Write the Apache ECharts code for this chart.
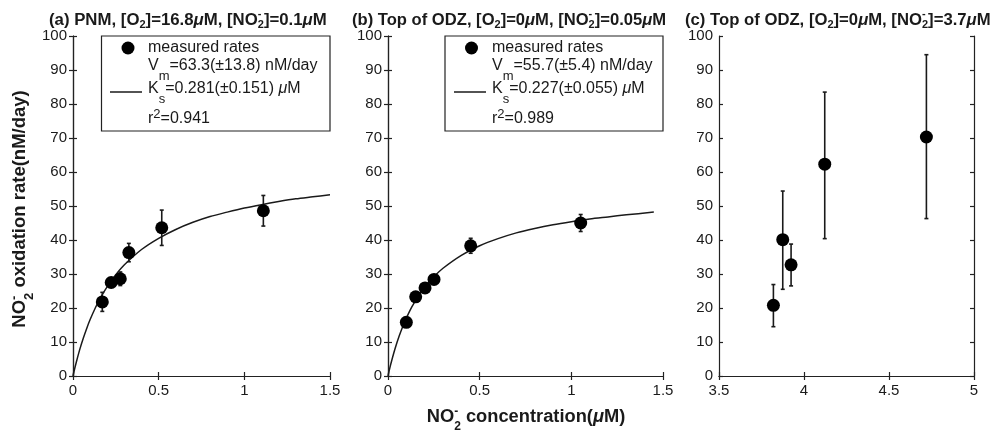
<!DOCTYPE html>
<html>
<head>
<meta charset="utf-8">
<script src="https://cdn.jsdelivr.net/npm/echarts@6/dist/echarts.min.js"></script>
<style>
html, body { margin: 0; padding: 0; background: #fff; }
#chart { width: 1005px; height: 433px; }
</style>
</head>
<body>
<div id="chart"></div>
<script>
// (a) PNM
const xA = [0.171, 0.223, 0.276, 0.326, 0.518, 1.111];
const yA = [21.8, 27.5, 28.6, 36.3, 43.6, 48.6];
const loA = [19.0, 26.3, 26.6, 33.6, 38.4, 44.1];
const hiA = [24.6, 28.7, 30.6, 39.0, 48.8, 53.1];
const fitXA = [0, 0.01, 0.02, 0.04, 0.06, 0.08, 0.1, 0.13, 0.16, 0.2, 0.25, 0.3, 0.4, 0.5, 0.6, 0.7, 0.8, 0.9, 1.0, 1.1, 1.2, 1.3, 1.4, 1.5];
const fitYA = [0, 2.2, 4.2, 7.9, 11.1, 14.0, 16.6, 20.0, 23.0, 26.3, 29.8, 32.7, 37.2, 40.5, 43.1, 45.2, 46.9, 48.2, 49.4, 50.4, 51.3, 52.1, 52.7, 53.3];

// (b) top of ODZ, low nitrite
const xB = [0.100, 0.151, 0.202, 0.251, 0.451, 1.051];
const yB = [15.8, 23.3, 25.9, 28.4, 38.3, 45.0];
const loB = [14.6, 22.3, 25.1, 27.4, 36.1, 42.5];
const hiB = [17.0, 24.3, 26.7, 29.4, 40.5, 47.5];
const fitXB = [0, 0.01, 0.02, 0.04, 0.06, 0.08, 0.1, 0.13, 0.16, 0.2, 0.25, 0.3, 0.4, 0.5, 0.6, 0.7, 0.8, 0.9, 1.0, 1.1, 1.2, 1.3, 1.45];
const fitYB = [0, 2.4, 4.5, 8.3, 11.6, 14.5, 17.0, 20.3, 23.0, 26.1, 29.2, 31.7, 35.5, 38.3, 40.4, 42.1, 43.4, 44.5, 45.4, 46.2, 46.8, 47.4, 48.2];

// (c) top of ODZ, high nitrite
const xC = [3.82, 3.875, 3.924, 4.122, 4.72];
const yC = [20.8, 40.1, 32.7, 62.3, 70.3];
const loC = [14.5, 25.5, 26.5, 40.4, 46.3];
const hiC = [26.9, 54.4, 38.8, 83.5, 94.5];

const xRanges = [[0, 1.5], [0, 1.5], [3.5, 5]];
const yRange = [0, 100];

const FF = '"Liberation Sans", Arial, Helvetica, sans-serif';
const INK = '#1a1a1a';

const chart = echarts.init(document.getElementById('chart'));
const measureCtx = document.createElement('canvas').getContext('2d');

// text made of pieces: t = normal, mu = italic, sub, sup, supz = sup stacked over the next sub
function richText(x, yc, parts, size, weight, subOff, supOff, opts) {
    opts = opts || {};
    const z = opts.z || 11;
    const small = Math.round(size * (opts.smallScale || 0.68));
    const children = [];
    let cx = 0;
    let held = 0;
    parts.forEach(([kind, str]) => {
        const isSmall = kind === 'sub' || kind === 'sup' || kind === 'supz';
        const fs = isSmall ? small : size;
        const fstyle = kind === 'mu' ? 'italic' : 'normal';
        measureCtx.font = fstyle + ' ' + weight + ' ' + fs + 'px ' + FF;
        const w = measureCtx.measureText(str).width;
        let dy = 0;
        if (kind === 'sub') dy = subOff;
        if (kind === 'sup' || kind === 'supz') dy = -supOff;
        children.push({
            type: 'text', x: cx, y: dy, z: z,
            style: {
                text: str, fontSize: fs, fontWeight: weight, fontStyle: fstyle,
                fontFamily: FF, fill: INK, align: 'left', verticalAlign: 'middle'
            }
        });
        if (kind === 'supz') {
            held = w;
        } else {
            cx += Math.max(w, held);
            held = 0;
        }
    });
    if (opts.center) {
        children.forEach(c => { c.x -= cx / 2; });
    }
    return {
        type: 'group', x: x, y: yc, rotation: opts.rotation || 0, z: z,
        children: children
    };
}

function errRender(params, api) {
    const x = api.value(0);
    const lo = api.coord([x, api.value(1)]);
    const hi = api.coord([x, api.value(2)]);
    const w = 2;
    const st = { stroke: INK, lineWidth: 1.6 };
    return {
        type: 'group',
        children: [
            { type: 'line', shape: { x1: lo[0], y1: lo[1], x2: hi[0], y2: hi[1] }, style: st },
            { type: 'line', shape: { x1: lo[0] - w, y1: lo[1], x2: lo[0] + w, y2: lo[1] }, style: st },
            { type: 'line', shape: { x1: hi[0] - w, y1: hi[1], x2: hi[0] + w, y2: hi[1] }, style: st }
        ]
    };
}

const grids = [
    { left: 73, top: 36, width: 257, height: 340 },
    { left: 388, top: 36, width: 275, height: 340 },
    { left: 719, top: 36, width: 255, height: 340 }
];

const xAxes = [];
const yAxes = [];
const axisLine = { show: true, lineStyle: { color: '#222', width: 1.2 } };
const tick = { show: true, inside: true, length: 4, lineStyle: { color: '#222', width: 1.2 } };
const lbl = { fontFamily: FF, fontSize: 15, color: INK };

for (let i = 0; i < 3; i++) {
    xAxes.push({
        type: 'value', gridIndex: i, position: 'bottom',
        min: xRanges[i][0], max: xRanges[i][1], interval: 0.5,
        axisLine: axisLine, axisTick: tick, splitLine: { show: false },
        axisLabel: Object.assign({ margin: 7 }, lbl)
    });
    xAxes.push({
        type: 'value', gridIndex: i, position: 'top',
        min: xRanges[i][0], max: xRanges[i][1], interval: 0.5,
        axisLine: axisLine, axisTick: tick, splitLine: { show: false },
        axisLabel: { show: false }
    });
    yAxes.push({
        type: 'value', gridIndex: i, position: 'left',
        min: yRange[0], max: yRange[1], interval: 10,
        axisLine: axisLine, axisTick: tick, splitLine: { show: false },
        axisLabel: Object.assign({ margin: 6 }, lbl)
    });
    yAxes.push({
        type: 'value', gridIndex: i, position: 'right',
        min: yRange[0], max: yRange[1], interval: 10,
        axisLine: axisLine, axisTick: tick, splitLine: { show: false },
        axisLabel: { show: false }
    });
}

function zip(a, b) {
    return a.map((v, i) => [v, b[i]]);
}

function zip3(a, b, c) {
    return a.map((v, i) => [v, b[i], c[i]]);
}

const panels = [
    { x: xA, y: yA, lo: loA, hi: hiA, fx: fitXA, fy: fitYA },
    { x: xB, y: yB, lo: loB, hi: hiB, fx: fitXB, fy: fitYB },
    { x: xC, y: yC, lo: loC, hi: hiC }
];

const series = [];
panels.forEach((p, i) => {
    if (p.fx) {
        series.push({
            type: 'line', xAxisIndex: 2 * i, yAxisIndex: 2 * i,
            data: zip(p.fx, p.fy), showSymbol: false, smooth: 0.3,
            lineStyle: { color: INK, width: 1.5 }, silent: true, z: 2
        });
    }
    series.push({
        type: 'custom', xAxisIndex: 2 * i, yAxisIndex: 2 * i,
        data: zip3(p.x, p.lo, p.hi), renderItem: errRender, silent: true, z: 3
    });
    series.push({
        type: 'scatter', xAxisIndex: 2 * i, yAxisIndex: 2 * i,
        data: zip(p.x, p.y), symbol: 'circle', symbolSize: 13,
        itemStyle: { color: '#000', opacity: 1 }, silent: true, z: 4
    });
});

function legendBox(x0, x1, circleX, textX, lineX0, lineX1, vm, ks, r2) {
    const fs = 16;
    const o = { smallScale: 0.8 };
    return [
        { type: 'rect', shape: { x: x0, y: 36, width: x1 - x0, height: 95 }, style: { fill: '#fff', stroke: '#222', lineWidth: 1.2 }, z: 10 },
        { type: 'circle', shape: { cx: circleX, cy: 48, r: 6.5 }, style: { fill: '#000' }, z: 11 },
        { type: 'line', shape: { x1: lineX0, y1: 92, x2: lineX1, y2: 92 }, style: { stroke: INK, lineWidth: 1.5 }, z: 11 },
        richText(textX, 48, [['t', 'measured rates']], fs, 'normal', 10, 5, o),
        richText(textX, 66, [['t', 'V'], ['sub', 'm'], ['t', '=' + vm + ' nM/day']], fs, 'normal', 10, 5, o),
        richText(textX, 89, [['t', 'K'], ['sub', 's'], ['t', '=' + ks + ' '], ['mu', 'μ'], ['t', 'M']], fs, 'normal', 10, 5, o),
        richText(textX, 119, [['t', 'r'], ['sup', '2'], ['t', '=' + r2]], fs, 'normal', 10, 5, o)
    ];
}

function titleParts(label, o2, no2) {
    return [
        ['t', label + ', [O'], ['sub', '2'], ['t', ']=' + o2], ['mu', 'μ'],
        ['t', 'M, [NO'], ['supz', '-'], ['sub', '2'], ['t', ']=' + no2], ['mu', 'μ'], ['t', 'M']
    ];
}

const graphics = [].concat(
    legendBox(101.5, 330, 128, 148, 110, 142, '63.3(±13.8)', '0.281(±0.151)', '0.941'),
    legendBox(445, 663, 471.5, 492, 454, 486, '55.7(±5.4)', '0.227(±0.055)', '0.989'),
    [
        richText(49, 20, titleParts('(a) PNM', '16.8', '0.1'), 16.8, 'bold', 5, 6),
        richText(352, 20, titleParts('(b) Top of ODZ', '0', '0.05'), 16.6, 'bold', 5, 6),
        richText(685, 20, titleParts('(c) Top of ODZ', '0', '3.7'), 16.7, 'bold', 5, 6),
        richText(526, 417, [['t', 'NO'], ['supz', '-'], ['sub', '2'], ['t', ' concentration('], ['mu', 'μ'], ['t', 'M)']],
            18.3, 'bold', 10, 5, { center: true }),
        richText(19.5, 209, [['t', 'NO'], ['supz', '-'], ['sub', '2'], ['t', ' oxidation rate(nM/day)']],
            18.5, 'bold', 10, 5, { center: true, rotation: Math.PI / 2 })
    ]
);

chart.setOption({
    animation: false,
    backgroundColor: '#fff',
    grid: grids,
    xAxis: xAxes,
    yAxis: yAxes,
    series: series,
    graphic: graphics
});
</script>
</body>
</html>
